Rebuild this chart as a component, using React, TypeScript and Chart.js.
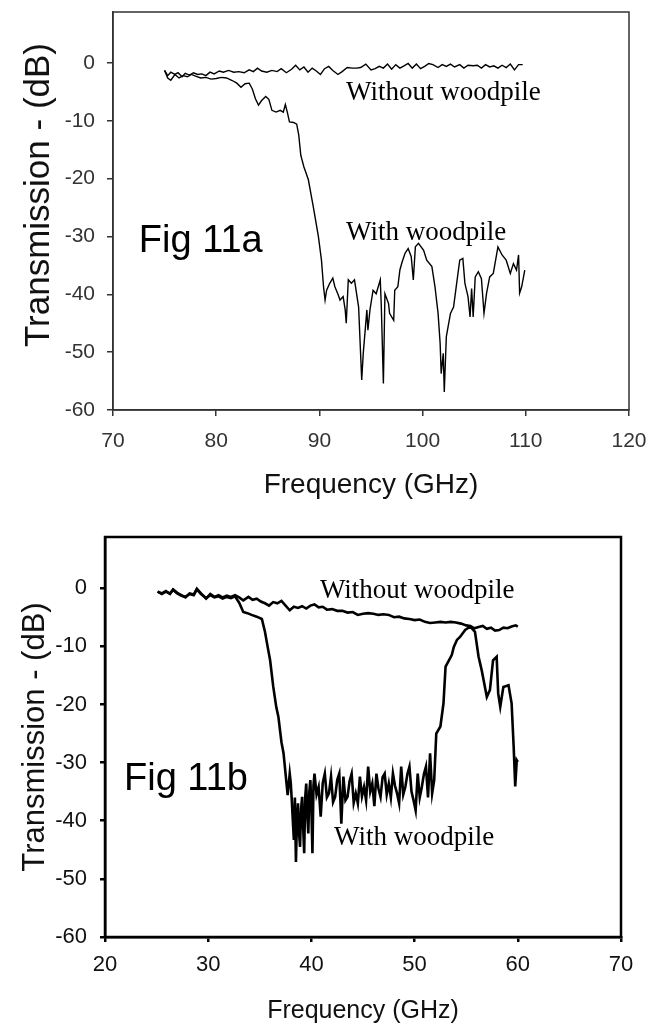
import React, { useEffect, useRef } from "react";
import { Chart, registerables } from "chart.js";

Chart.register(...registerables);

// ---------- Fig 11a data (frequency GHz, transmission dB) ----------
const yTicks = [-60, -50, -40, -30, -20, -10, 0];

const aWithout: [number, number][] = [
  [75.0, -1.3], [75.3, -2.2], [75.6, -1.6], [76.0, -2.0], [76.3, -1.7], [76.7, -2.4], [77.0, -1.8],
  [77.4, -2.1], [77.8, -1.7], [78.2, -2.0], [78.6, -1.9], [79.0, -2.2], [79.4, -1.6], [79.8, -1.9],
  [80.3, -1.4], [80.7, -1.6], [81.2, -1.3], [81.7, -1.6], [82.2, -1.5], [82.7, -1.7], [83.2, -1.2],
  [83.6, -1.5], [84.0, -0.9], [84.4, -1.4], [84.9, -1.6], [85.4, -1.3], [85.9, -1.5], [86.3, -1.0],
  [86.8, -1.7], [87.3, -1.1], [87.7, -0.4], [88.1, -1.2], [88.5, -0.7], [88.9, -1.6], [89.3, -0.9],
  [89.7, -1.4], [90.1, -2.0], [90.5, -1.0], [90.9, -0.6], [91.3, -1.3], [91.8, -2.0], [92.2, -1.5],
  [92.7, -0.8], [93.2, -0.9], [93.6, -0.9], [94.0, -0.8], [94.5, -0.2], [95.0, -1.2], [95.4, -1.0],
  [95.8, -0.6], [96.2, -0.9], [96.6, -0.2], [97.0, -1.1], [97.4, -0.3], [97.8, -0.9], [98.2, -0.5],
  [98.6, -0.1], [99.0, -0.9], [99.4, -0.2], [99.8, -1.0], [100.2, -0.6], [100.6, -0.1], [101.0, -0.3],
  [101.5, -0.8], [101.9, -0.3], [102.3, -0.6], [102.7, -0.2], [103.1, -0.7], [103.6, -0.3], [104.0, -0.9],
  [104.4, -0.4], [104.9, -0.5], [105.3, -0.4], [105.7, -0.9], [106.1, -0.3], [106.5, -0.7], [106.9, -0.5],
  [107.3, -0.9], [107.7, -0.4], [108.1, -0.8], [108.5, -0.2], [108.9, -1.2], [109.3, -0.3], [109.7, -0.3],
];

const aWith: [number, number][] = [
  [75.0, -1.3], [75.3, -2.6], [75.6, -3.0], [76.0, -2.0], [76.4, -2.6], [76.8, -2.2], [77.2, -2.4],
  [77.6, -2.0], [78.0, -2.3], [78.5, -2.6], [79.0, -2.5], [79.5, -2.8], [80.0, -2.7], [80.5, -2.5],
  [81.0, -2.6], [81.5, -3.0], [82.0, -3.5], [82.4, -4.2], [82.8, -3.6], [83.2, -3.5], [83.5, -4.5],
  [83.8, -6.2], [84.1, -7.3], [84.4, -6.5], [84.8, -5.8], [85.1, -6.3], [85.4, -8.2], [85.8, -8.5],
  [86.2, -8.2], [86.5, -8.5], [86.7, -7.2], [86.9, -8.6], [87.1, -10.2], [87.5, -10.3], [87.8, -10.6],
  [88.0, -12.5], [88.2, -16.0], [88.5, -18.0], [88.7, -19.0], [88.93, -20.2], [89.41, -24.9], [89.9, -30.0],
  [90.2, -34.1], [90.4, -38.7], [90.55, -41.0], [90.7, -39.3], [91.0, -38.1], [91.3, -37.2], [91.5, -38.7],
  [91.8, -40.0], [92.0, -41.0], [92.3, -40.4], [92.5, -42.7], [92.6, -45.0], [92.8, -37.5], [93.1, -38.1],
  [93.4, -37.5], [93.8, -42.2], [94.1, -54.8], [94.25, -50.2], [94.6, -42.7], [94.7, -46.2], [94.9, -42.7],
  [95.2, -39.3], [95.5, -39.9], [95.9, -37.5], [96.0, -42.2], [96.2, -55.4], [96.35, -39.9], [96.7, -41.6],
  [96.8, -43.3], [97.2, -44.5], [97.3, -39.3], [97.6, -38.7], [97.8, -35.8], [98.0, -34.5], [98.3, -32.9],
  [98.6, -32.1], [98.9, -33.5], [99.1, -37.5], [99.3, -31.8], [99.6, -31.2], [100.1, -32.4], [100.4, -34.1],
  [100.9, -35.2], [101.2, -38.7], [101.5, -43.3], [101.7, -48.5], [101.8, -53.7], [102.0, -50.2], [102.1, -56.9],
  [102.3, -47.3], [102.7, -43.3], [103.0, -42.2], [103.3, -38.1], [103.6, -34.1], [103.9, -33.8], [104.1, -38.1],
  [104.4, -40.4], [104.6, -43.9], [104.75, -39.0], [104.9, -43.9], [105.1, -37.0], [105.4, -36.1], [105.7, -37.3],
  [105.95, -43.3], [106.2, -39.8], [106.5, -37.0], [106.85, -36.4], [107.3, -31.8], [107.7, -33.2], [108.1, -34.1],
  [108.5, -36.4], [108.8, -34.7], [109.1, -35.8], [109.3, -33.2], [109.4, -39.8], [109.6, -38.7], [109.9, -35.8],
];

// ---------- Fig 11b data ----------
const bWithout: [number, number][] = [
  [25.1, -0.6], [25.5, -0.9], [25.9, -0.5], [26.3, -1.0], [26.6, -0.2], [27.0, -0.8], [27.4, -1.2],
  [27.8, -1.6], [28.2, -0.9], [28.6, -1.1], [28.9, -0.1], [29.3, -0.9], [29.8, -1.8], [30.2, -1.0],
  [30.6, -1.5], [31.0, -1.2], [31.4, -1.6], [31.8, -1.3], [32.2, -1.5], [32.6, -1.2], [33.0, -1.6],
  [33.4, -2.1], [33.9, -1.5], [34.3, -2.0], [34.7, -1.8], [35.1, -2.3], [35.5, -2.6], [35.9, -3.0],
  [36.3, -2.4], [36.7, -2.6], [37.1, -2.2], [37.5, -3.0], [37.9, -3.8], [38.3, -3.2], [38.7, -3.4],
  [39.1, -3.1], [39.5, -3.5], [39.9, -3.0], [40.3, -2.8], [40.7, -3.3], [41.1, -3.2], [41.5, -3.7],
  [42.0, -3.6], [42.5, -3.9], [43.0, -3.9], [43.5, -4.2], [44.0, -4.1], [44.5, -4.6], [45.0, -4.4],
  [45.5, -4.3], [46.0, -4.4], [46.5, -4.6], [47.0, -4.5], [47.5, -4.6], [48.0, -5.0], [48.5, -4.9],
  [49.0, -5.2], [49.5, -5.3], [50.0, -5.5], [50.5, -5.4], [51.0, -5.8], [51.5, -6.0], [52.0, -5.9],
  [52.5, -5.8], [53.0, -5.9], [53.5, -5.8], [54.0, -5.9], [54.5, -6.1], [55.0, -6.4], [55.4, -6.5],
  [55.8, -6.9], [56.2, -6.7], [56.6, -6.5], [57.0, -7.0], [57.4, -6.8], [57.8, -7.3], [58.2, -7.2],
  [58.6, -6.8], [59.0, -6.9], [59.4, -6.6], [59.8, -6.4], [60.0, -6.6],
];

const bWith: [number, number][] = [
  [25.1, -0.6], [25.5, -1.0], [25.9, -0.6], [26.3, -0.9], [26.6, -0.3], [27.0, -0.9], [27.4, -1.3],
  [27.8, -1.5], [28.2, -1.0], [28.6, -1.2], [28.9, -0.2], [29.3, -1.0], [29.8, -1.7], [30.2, -1.2],
  [30.6, -1.6], [31.0, -1.4], [31.4, -1.8], [31.8, -1.5], [32.2, -1.7], [32.6, -1.4], [33.0, -2.5],
  [33.4, -4.1], [33.8, -4.3], [34.2, -4.6], [34.7, -4.9], [35.2, -5.3], [35.5, -7.5], [35.7, -9.5],
  [36.0, -12.4], [36.3, -16.9], [36.6, -20.5], [36.8, -22.1], [37.1, -26.5], [37.3, -28.4], [37.5, -32.0],
  [37.7, -35.6], [37.9, -31.9], [38.0, -33.5], [38.1, -36.5], [38.2, -40.0], [38.3, -43.3], [38.4, -36.0],
  [38.5, -47.1], [38.6, -40.0], [38.7, -37.0], [38.8, -42.0], [38.9, -44.5], [39.0, -38.0], [39.1, -35.9],
  [39.2, -41.0], [39.3, -45.6], [39.4, -36.0], [39.5, -33.6], [39.6, -39.0], [39.7, -42.2], [39.8, -35.0],
  [39.9, -33.0], [40.0, -38.0], [40.1, -45.6], [40.2, -34.0], [40.3, -31.9], [40.5, -35.5], [40.7, -34.2],
  [40.9, -39.3], [41.1, -33.5], [41.3, -31.9], [41.5, -36.0], [41.7, -35.3], [41.9, -32.4], [42.1, -36.8],
  [42.3, -35.9], [42.5, -33.0], [42.7, -31.9], [42.9, -40.5], [43.1, -32.4], [43.3, -36.5], [43.5, -35.9],
  [43.7, -33.2], [43.9, -31.9], [44.1, -36.9], [44.3, -35.3], [44.5, -37.0], [44.7, -32.4], [44.9, -35.8],
  [45.1, -34.2], [45.3, -36.5], [45.5, -30.7], [45.7, -35.0], [45.9, -33.6], [46.1, -37.5], [46.3, -31.9],
  [46.5, -34.5], [46.7, -35.9], [46.9, -32.5], [47.1, -31.9], [47.3, -35.5], [47.5, -33.6], [47.7, -36.0],
  [47.9, -31.9], [48.1, -34.0], [48.3, -35.3], [48.5, -37.0], [48.7, -30.7], [48.9, -35.5], [49.1, -34.2],
  [49.3, -32.0], [49.5, -30.7], [49.7, -35.0], [49.9, -36.5], [50.1, -38.2], [50.3, -31.9], [50.5, -36.0],
  [50.7, -34.2], [50.9, -32.0], [51.1, -30.7], [51.3, -36.0], [51.5, -28.4], [51.7, -35.3], [51.9, -33.0],
  [52.1, -25.0], [52.5, -23.8], [52.8, -19.8], [53.0, -13.5], [53.3, -12.5], [53.6, -11.5], [53.8, -10.1],
  [54.1, -8.9], [54.4, -8.4], [54.9, -7.2], [55.4, -6.6], [55.85, -7.5], [56.2, -11.8], [56.5, -14.1],
  [57.0, -18.7], [57.3, -17.5], [57.6, -12.4], [57.95, -11.8], [58.1, -18.1], [58.3, -20.4], [58.6, -17.0],
  [59.1, -16.7], [59.4, -19.8], [59.6, -27.3], [59.75, -34.1], [59.9, -29.6], [60.0, -29.9],
];

const SANS = "'Liberation Sans', Arial, sans-serif";
const SERIF = "'Liberation Serif', 'Times New Roman', serif";

type Note = { text: string; x: number; y: number; font: string };
type FigCfg = {
  id: string;
  width: number;
  height: number;
  top: number;
  xMin: number;
  xMax: number;
  yMax: number;
  padTop: number;
  padRight: number;
  yAxisWidth: number;
  xAxisHeight: number;
  tickFont: number;
  tickColor: string;
  xTickPad: number;
  yTickPad: number;
  tickLen: number;
  axisWidth: number;
  axisColor: string;
  lineWidth: number;
  series: [number, number][][];
  notes: Note[];
  xTitle: string;
  xTitleFont: string;
  xTitleBaseline: number;
  yTitle: string;
  yTitleFont: string;
  yTitleX: number;
  yTitleShift: number;
};

const figA: FigCfg = {
  id: "figA", width: 648, height: 520, top: 0,
  xMin: 70, xMax: 120, yMax: 8.8,
  padTop: 12, padRight: 19, yAxisWidth: 113, xAxisHeight: 110,
  tickFont: 21, tickColor: "#333", xTickPad: 13, yTickPad: 12, tickLen: 6,
  axisWidth: 1.5, axisColor: "#333", lineWidth: 1.4,
  series: [aWithout, aWith],
  notes: [
    { text: "Without woodpile", x: 92.58, y: -6.4, font: `27px ${SERIF}` },
    { text: "With woodpile", x: 92.58, y: -30.6, font: `27px ${SERIF}` },
    { text: "Fig 11a", x: 72.5, y: -32.7, font: `38px ${SANS}` },
  ],
  xTitle: "Frequency (GHz)", xTitleFont: `28px ${SANS}`, xTitleBaseline: 83,
  yTitle: "Transmission - (dB)", yTitleFont: `35px ${SANS}`, yTitleX: 39, yTitleShift: -16,
};

const figB: FigCfg = {
  id: "figB", width: 648, height: 504, top: 520,
  xMin: 20, xMax: 70, yMax: 8.8,
  padTop: 17, padRight: 27, yAxisWidth: 105, xAxisHeight: 87,
  tickFont: 22, tickColor: "#111", xTickPad: 10, yTickPad: 13, tickLen: 5,
  axisWidth: 2.5, axisColor: "#000", lineWidth: 2.6,
  series: [bWithout, bWith],
  notes: [
    { text: "Without woodpile", x: 40.83, y: -1.72, font: `27px ${SERIF}` },
    { text: "With woodpile", x: 42.19, y: -44.2, font: `27px ${SERIF}` },
    { text: "Fig 11b", x: 21.84, y: -34.7, font: `38px ${SANS}` },
  ],
  xTitle: "Frequency (GHz)", xTitleFont: `25px ${SANS}`, xTitleBaseline: 81,
  yTitle: "Transmission - (dB)", yTitleFont: `31px ${SANS}`, yTitleX: 35, yTitleShift: 0,
};

function makeFigPlugin(cfg: FigCfg) {
  return {
    id: cfg.id + "Text",
    afterDraw(chart: any) {
      const { ctx, chartArea, scales } = chart;
      ctx.save();
      // frame around plot area
      ctx.strokeStyle = cfg.axisColor;
      ctx.lineWidth = cfg.axisWidth;
      ctx.strokeRect(chartArea.left, chartArea.top, chartArea.right - chartArea.left, chartArea.bottom - chartArea.top);
      // annotations in data coordinates
      ctx.fillStyle = "#000";
      ctx.textAlign = "left";
      ctx.textBaseline = "alphabetic";
      for (const n of cfg.notes) {
        ctx.font = n.font;
        ctx.fillText(n.text, scales.x.getPixelForValue(n.x), scales.y.getPixelForValue(n.y));
      }
      // x title
      ctx.fillStyle = "#111";
      ctx.font = cfg.xTitleFont;
      ctx.textAlign = "center";
      ctx.fillText(cfg.xTitle, (chartArea.left + chartArea.right) / 2, chartArea.bottom + cfg.xTitleBaseline);
      // y title
      ctx.font = cfg.yTitleFont;
      ctx.translate(cfg.yTitleX, (chartArea.top + chartArea.bottom) / 2 + cfg.yTitleShift);
      ctx.rotate(-Math.PI / 2);
      ctx.textAlign = "center";
      ctx.textBaseline = "middle";
      ctx.fillText(cfg.yTitle, 0, 0);
      ctx.restore();
    },
  };
}

function buildConfig(cfg: FigCfg): any {
  const tickFont = { family: SANS, size: cfg.tickFont };
  const grid = {
    display: true,
    drawOnChartArea: false,
    drawTicks: true,
    tickLength: cfg.tickLen,
    color: cfg.axisColor,
    lineWidth: cfg.axisWidth,
  };
  const border = { display: true, color: cfg.axisColor, width: cfg.axisWidth };
  return {
    type: "line",
    data: {
      datasets: cfg.series.map((s) => ({
        data: s.map(([x, y]) => ({ x, y })),
        borderColor: "#000",
        borderWidth: cfg.lineWidth,
        pointRadius: 0,
        tension: 0,
        fill: false,
      })),
    },
    options: {
      responsive: false,
      animation: false,
      events: [],
      layout: { padding: { top: cfg.padTop, right: cfg.padRight, left: 0, bottom: 0 } },
      plugins: { legend: { display: false }, tooltip: { enabled: false } },
      scales: {
        x: {
          type: "linear",
          min: cfg.xMin,
          max: cfg.xMax,
          ticks: { stepSize: 10, font: tickFont, color: cfg.tickColor, padding: cfg.xTickPad, maxRotation: 0, autoSkip: false },
          grid,
          border,
          afterFit: (s: any) => {
            s.height = cfg.xAxisHeight;
            s.paddingLeft = 0;
            s.paddingRight = 0;
          },
        },
        y: {
          type: "linear",
          min: -60,
          max: cfg.yMax,
          afterBuildTicks: (s: any) => { s.ticks = yTicks.map((v) => ({ value: v })); },
          ticks: { font: tickFont, color: cfg.tickColor, padding: cfg.yTickPad, callback: (v: any) => String(v) },
          grid,
          border,
          afterFit: (s: any) => {
            s.width = cfg.yAxisWidth;
            s.paddingTop = 0;
            s.paddingBottom = 0;
          },
        },
      },
    },
    plugins: [makeFigPlugin(cfg)],
  };
}

function Fig({ cfg }: { cfg: FigCfg }) {
  const ref = useRef<HTMLCanvasElement>(null);
  useEffect(() => {
    const chart = new Chart(ref.current as HTMLCanvasElement, buildConfig(cfg));
    return () => chart.destroy();
  }, [cfg]);
  return (
    <canvas
      ref={ref}
      width={cfg.width}
      height={cfg.height}
      style={{ position: "absolute", left: 0, top: cfg.top, width: cfg.width, height: cfg.height, display: "block" }}
    />
  );
}

export default function App() {
  return (
    <div style={{ position: "absolute", left: 0, top: 0, width: 648, height: 1024, background: "#fff", overflow: "hidden" }}>
      <Fig cfg={figA} />
      <Fig cfg={figB} />
    </div>
  );
}
